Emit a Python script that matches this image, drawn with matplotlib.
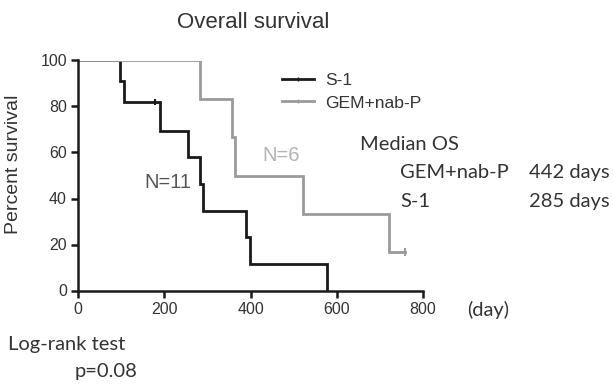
import matplotlib
matplotlib.use("Agg")
import matplotlib.pyplot as plt
from matplotlib.lines import Line2D

# Kaplan-Meier step data (day, percent survival)
s1_days = [0, 97, 107, 190, 254, 283, 289, 390, 399, 577]
s1_surv = [100, 90.9, 81.8, 69.5, 57.9, 46.3, 34.7, 23.1, 11.6, 0]
s1_censor_days = [178]
s1_censor_surv = [81.8]

gem_days = [0, 283, 356, 364, 521, 722, 758]
gem_surv = [100, 83.3, 66.7, 50, 33.3, 16.7, 16.7]
gem_censor_days = [758]
gem_censor_surv = [16.7]

x_ticks = [0, 200, 400, 600, 800]
y_ticks = [0, 20, 40, 60, 80, 100]

series_names = ["S-1", "GEM+nab-P"]
median_os = ["442 days", "285 days"]

W, H = 614, 385
BLACK = "#1a1a1a"
GRAY = "#9a9a9a"
TXT = "#333333"
ARIAL = "Liberation Sans"
CALIBRI = "Lato"


def px(x, y):
    return x / W, 1 - y / H


fig = plt.figure(figsize=(W / 100, H / 100), dpi=100)
ax = fig.add_axes([78 / W, 1 - 290.5 / H, (423 - 78) / W, (290.5 - 60.5) / H])

ax.step(s1_days, s1_surv, where="post", color=BLACK, lw=2, solid_joinstyle="miter")
ax.step(gem_days, gem_surv, where="post", color=GRAY, lw=2, solid_joinstyle="miter")
ax.plot(s1_censor_days, s1_censor_surv, ls="none", marker="|", ms=5, mew=1.5, color=BLACK)
ax.plot(gem_censor_days, gem_censor_surv, ls="none", marker="|", ms=6, mew=1.5, color=GRAY)

ax.set_xlim(0, 800)
ax.set_ylim(0, 100)
ax.set_xticks(x_ticks)
ax.set_yticks(y_ticks)
for side in ["top", "right"]:
    ax.spines[side].set_visible(False)
for side in ["left", "bottom"]:
    ax.spines[side].set_linewidth(1.8)
    ax.spines[side].set_color(BLACK)
ax.tick_params(axis="both", length=5, width=1.8, color=BLACK, labelsize=11.5,
               labelcolor=TXT, pad=3)
for lab in ax.get_xticklabels() + ax.get_yticklabels():
    lab.set_family(ARIAL)

# N labels inside the plot
ax.text(208, 47, "N=11", color="#555555", fontsize=14.5, family=ARIAL,
        ha="center", va="center")
ax.text(472, 58.7, "N=6", color="#b3b3b3", fontsize=14.5, family=ARIAL,
        ha="center", va="center")

# legend
handles = [
    Line2D([], [], color=BLACK, lw=2, marker="|", ms=3.5, mew=1),
    Line2D([], [], color=GRAY, lw=2, marker="|", ms=3.5, mew=1),
]
fig.legend(handles, series_names, loc="upper left", bbox_to_anchor=px(282, 73),
           frameon=False, borderpad=0, borderaxespad=0, handlelength=1.8,
           handletextpad=0.68, labelspacing=0.4, numpoints=1,
           prop={"family": ARIAL, "size": 12.6}, labelcolor=TXT)

fig.text(*px(253, 22), "Overall survival", fontsize=16, family=ARIAL, color=TXT,
         ha="center", va="center")
fig.text(*px(14, 164), "Percent survival", fontsize=14, family=ARIAL, color=TXT,
         ha="center", va="center", rotation=90)

fig.text(*px(360, 150), "Median OS", fontsize=14.5, family=CALIBRI, color=TXT, va="baseline")
fig.text(*px(400, 178), series_names[1], fontsize=14.5, family=CALIBRI, color=TXT, va="baseline")
fig.text(*px(529, 178), median_os[0], fontsize=14.5, family=CALIBRI, color=TXT, va="baseline")
fig.text(*px(400, 207), series_names[0], fontsize=14.5, family=CALIBRI, color=TXT, va="baseline")
fig.text(*px(529, 207), median_os[1], fontsize=14.5, family=CALIBRI, color=TXT, va="baseline")

fig.text(*px(467, 316), "(day)", fontsize=14.5, family=CALIBRI, color=TXT, va="baseline")
fig.text(*px(8, 350), "Log-rank test", fontsize=14.5, family=CALIBRI, color=TXT, va="baseline")
fig.text(*px(75, 377), "p=0.08", fontsize=14.5, family=CALIBRI, color=TXT, va="baseline")

fig.savefig("out.png", dpi=100)
